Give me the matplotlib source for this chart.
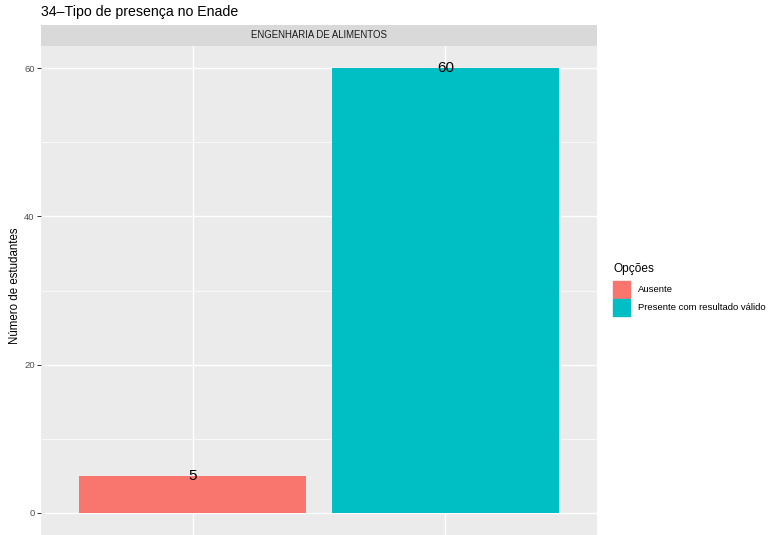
import matplotlib
matplotlib.use("Agg")
import matplotlib.pyplot as plt
from matplotlib.patches import Rectangle

categories = ["Ausente", "Presente com resultado válido"]
values = [5, 60]
colors = ["#F8766D", "#00BFC4"]
yticks = [0, 20, 40, 60]
title = "34–Tipo de presença no Enade"
strip = "ENGENHARIA DE ALIMENTOS"
ylabel = "Número de estudantes"
legend_title = "Opções"

plt.rcParams['font.family'] = ['Liberation Sans', 'DejaVu Sans']
W, H = 771, 535
fig = plt.figure(figsize=(W/100, H/100), dpi=100)

px_l, px_r, px_t, px_b = 41, 597, 46, 535
ax = fig.add_axes([px_l/W, 1-px_b/H, (px_r-px_l)/W, (px_b-px_t)/H])
ax.set_facecolor("#EBEBEB")
for s in ax.spines.values():
    s.set_visible(False)

x = list(range(1, len(categories)+1))
ax.bar(x, values, width=0.9, color=colors, zorder=3)
for xi, v in zip(x, values):
    ax.text(xi, v, str(v), ha="center", va="center", fontsize=11, color="black", zorder=4)

ax.set_xlim(0.4, 2.6)
ax.set_ylim(-3, 63)
ax.set_yticks(yticks)
ax.set_yticks([10, 30, 50], minor=True)
ax.set_xticks(x)
ax.set_xticklabels([])
ax.grid(which="major", color="white", linewidth=1.0, zorder=1)
ax.grid(which="minor", axis="y", color="white", linewidth=0.5, zorder=1)
ax.tick_params(axis="y", which="major", length=3, width=0.7, color="#333333",
               labelsize=6.8, labelcolor="#4D4D4D", pad=1.5)
ax.tick_params(axis="y", which="minor", length=0)
ax.tick_params(axis="x", length=0)
ax.set_ylabel(ylabel, fontsize=8.3)
ax.yaxis.set_label_coords((21-px_l)/(px_r-px_l), 0.51)

# strip
sax = fig.add_axes([px_l/W, 1-46/H, (px_r-px_l)/W, 21/H])
sax.set_facecolor("#D9D9D9")
sax.set_xticks([]); sax.set_yticks([])
for s in sax.spines.values():
    s.set_visible(False)
sax.text(0.5, 0.5, strip, ha="center", va="center", fontsize=6.9, color="#1A1A1A",
         transform=sax.transAxes)

fig.text(px_l/W, 1-12/H, title, ha="left", va="center", fontsize=10.2)

# legend
fig.text(613/W, 1-269/H, legend_title, ha="left", va="center", fontsize=8.6)
for i, (c, lab) in enumerate(zip(colors, categories)):
    y0 = 281 + 18*i
    fig.patches.append(Rectangle((613/W, 1-(y0+17)/H), 17/W, 17/H, color=c,
                                 transform=fig.transFigure, figure=fig))
    fig.text(638/W, 1-(y0+8.5)/H, lab, ha="left", va="center", fontsize=6.8)

fig.savefig("out.png", dpi=100)
